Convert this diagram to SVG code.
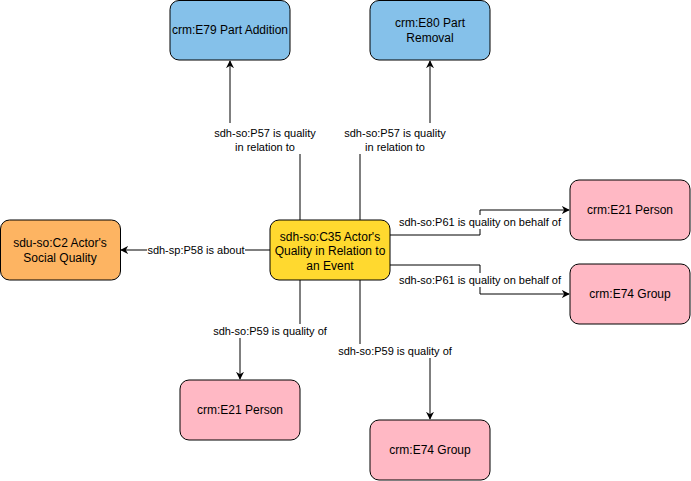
<svg xmlns="http://www.w3.org/2000/svg" width="691" height="481" viewBox="0 0 691 481">
<defs>
<style>
.n rect{stroke:#000;stroke-width:1}
.blue{fill:#85C1EA}
.yel{fill:#FFD92F}
.org{fill:#FDB462}
.pink{fill:#FFB8C4}
.t{font-family:"Liberation Sans",Arial,sans-serif;font-size:12px;fill:#000;text-anchor:middle}
.e path{fill:none;stroke:#000;stroke-width:1}
.lb{fill:#fff}
.lt{font-family:"Liberation Sans",Arial,sans-serif;font-size:11px;fill:#000;text-anchor:middle}
</style>
<marker id="ar" viewBox="0 0 10 10" refX="9" refY="5" markerWidth="8" markerHeight="8" markerUnits="userSpaceOnUse" orient="auto">
<path d="M0,0 L10,5 L0,10 L3,5 Z" fill="#000"/>
</marker>
</defs>
<rect width="691" height="481" fill="#fff"/>
<g id="connectors" class="e">
<path d="M300,220 V140 H230 V61" marker-end="url(#ar)"/>
<path d="M360,220 V140 H430 V61" marker-end="url(#ar)"/>
<path d="M270,250 H121" marker-end="url(#ar)"/>
<path d="M390,235 H480 V210 H569" marker-end="url(#ar)"/>
<path d="M390,265 H480 V294 H569" marker-end="url(#ar)"/>
<path d="M300,280 V330 H240 V379" marker-end="url(#ar)"/>
<path d="M360,280 V350 H430 V419" marker-end="url(#ar)"/>
<rect class="lb" x="214" y="123" width="103" height="31"/>
<text class="lt" x="265" y="137">sdh-so:P57 is quality</text>
<text class="lt" x="265" y="151">in relation to</text>
<rect class="lb" x="344" y="123" width="103" height="31"/>
<text class="lt" x="395" y="137">sdh-so:P57 is quality</text>
<text class="lt" x="395" y="151">in relation to</text>
<rect class="lb" x="147" y="243" width="98" height="14"/>
<text class="lt" x="196" y="254">sdh-sp:P58 is about</text>
<rect class="lb" x="398" y="215" width="164" height="14"/>
<text class="lt" x="480" y="226">sdh-so:P61 is quality on behalf of</text>
<rect class="lb" x="398" y="273" width="164" height="14"/>
<text class="lt" x="480" y="284">sdh-so:P61 is quality on behalf of</text>
<rect class="lb" x="213" y="324" width="114" height="14"/>
<text class="lt" x="270" y="335">sdh-so:P59 is quality of</text>
<rect class="lb" x="338" y="344" width="115" height="14"/>
<text class="lt" x="395" y="355">sdh-so:P59 is quality of</text>
</g>
<g id="e79" class="n"><rect class="blue" x="170" y="0.5" width="120" height="59.5" rx="9"/><text class="t" x="230" y="34">crm:E79 Part Addition</text></g>
<g id="e80" class="n"><rect class="blue" x="370" y="0.5" width="120" height="59.5" rx="9"/><text class="t" x="430" y="27">crm:E80 Part</text><text class="t" x="430" y="42">Removal</text></g>
<g id="c2" class="n"><rect class="org" x="0.5" y="220" width="120" height="60" rx="9"/><text class="t" x="60" y="247">sdu-so:C2 Actor's</text><text class="t" x="60" y="262">Social Quality</text></g>
<g id="c35" class="n"><rect class="yel" x="270" y="220" width="120" height="60" rx="9"/><text class="t" x="330" y="241">sdh-so:C35 Actor's</text><text class="t" x="330" y="255">Quality in Relation to</text><text class="t" x="330" y="270">an Event</text></g>
<g id="e21a" class="n"><rect class="pink" x="570" y="180" width="120" height="60" rx="9"/><text class="t" x="630" y="214">crm:E21 Person</text></g>
<g id="e74a" class="n"><rect class="pink" x="570" y="264" width="120" height="60" rx="9"/><text class="t" x="630" y="298">crm:E74 Group</text></g>
<g id="e21b" class="n"><rect class="pink" x="180" y="380" width="120" height="60" rx="9"/><text class="t" x="240" y="414">crm:E21 Person</text></g>
<g id="e74b" class="n"><rect class="pink" x="370" y="420" width="120" height="60" rx="9"/><text class="t" x="430" y="454">crm:E74 Group</text></g>
</svg>
